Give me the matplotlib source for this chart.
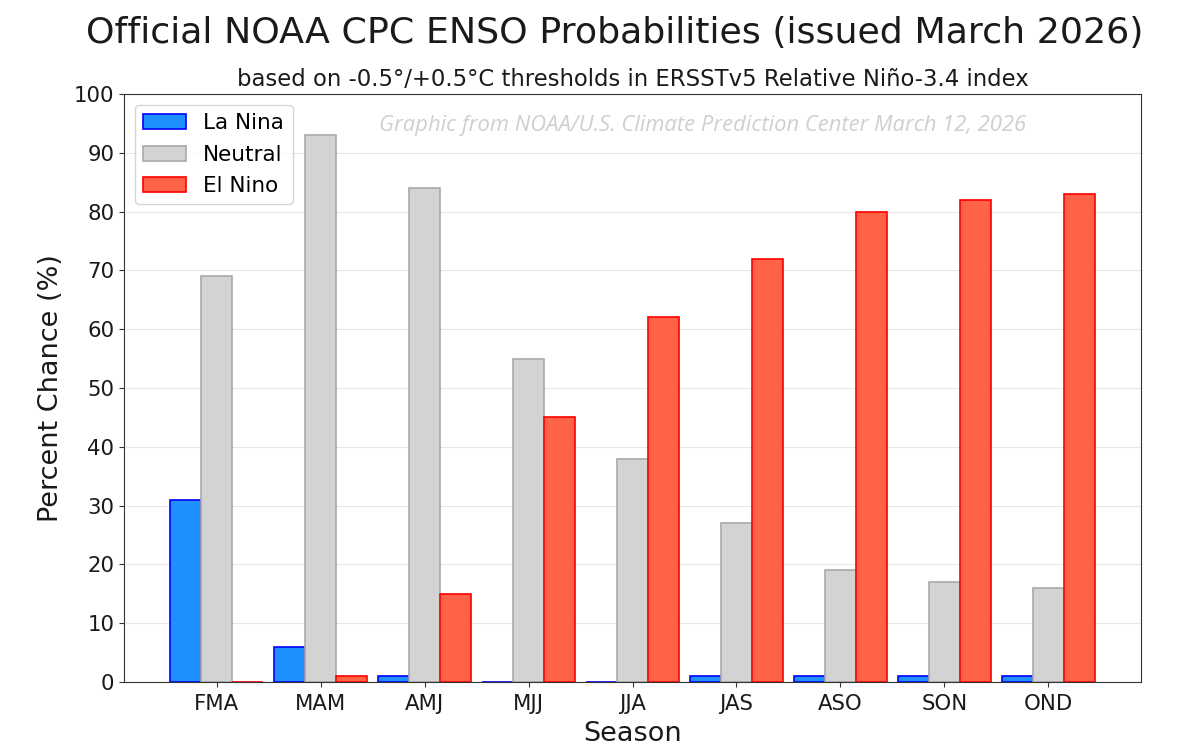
import numpy as np
import matplotlib
matplotlib.use("Agg")
import matplotlib.pyplot as plt

seasons = ["FMA", "MAM", "AMJ", "MJJ", "JJA", "JAS", "ASO", "SON", "OND"]
la_nina = [31, 6, 1, 0, 0, 1, 1, 1, 1]
neutral = [69, 93, 84, 55, 38, 27, 19, 17, 16]
el_nino = [0, 1, 15, 45, 62, 72, 80, 82, 83]

fig = plt.figure(figsize=(11.8, 7.55), dpi=100)
ax = fig.add_axes([124 / 1180, 1 - 682 / 755, (1141 - 124) / 1180, (682 - 94) / 755])

x = np.arange(len(seasons))
width = 0.3
ax.bar(x - width, la_nina, width, color="dodgerblue", edgecolor="blue", linewidth=1.2, label="La Nina")
ax.bar(x, neutral, width, color="lightgray", edgecolor="darkgray", linewidth=1.2, label="Neutral")
ax.bar(x + width, el_nino, width, color="tomato", edgecolor="red", linewidth=1.2, label="El Nino")

ax.set_xlim(-0.89, 8.89)
ax.set_ylim(0, 100)
ax.set_yticks(range(0, 101, 10))
ax.set_xticks(x)
ax.set_xticklabels(seasons)
ax.tick_params(labelsize=15.3, color="#333333", labelcolor="#1a1a1a")
ax.tick_params(axis="x", pad=5.5)
for spine in ax.spines.values():
    spine.set_color("#333333")
ax.grid(axis="y", color="#e6e6e6", linewidth=0.8)
ax.set_axisbelow(True)
ax.set_xlabel("Season", fontsize=19.5, labelpad=5, color="#1a1a1a")
ax.set_ylabel("Percent Chance (%)", fontsize=19.5, labelpad=7, color="#1a1a1a")
ax.legend(loc="upper left", fontsize=15.5, borderaxespad=0.5, labelspacing=0.52, handletextpad=0.78)

fig.text(615 / 1180, 1 - 33 / 755, "Official NOAA CPC ENSO Probabilities (issued March 2026)",
         ha="center", va="center", fontsize=26.2, color="#1a1a1a")
fig.text(633 / 1180, 1 - 79 / 755, "based on -0.5°/+0.5°C thresholds in ERSSTv5 Relative Niño-3.4 index",
         ha="center", va="center", fontsize=16.4, color="#1a1a1a")
fig.text(703 / 1180, 1 - 125 / 755, "Graphic from NOAA/U.S. Climate Prediction Center March 12, 2026",
         ha="center", va="center", fontsize=15.8, style="italic", color="#cfcfcf", family="Open Sans")

fig.savefig("out.png", dpi=100)
